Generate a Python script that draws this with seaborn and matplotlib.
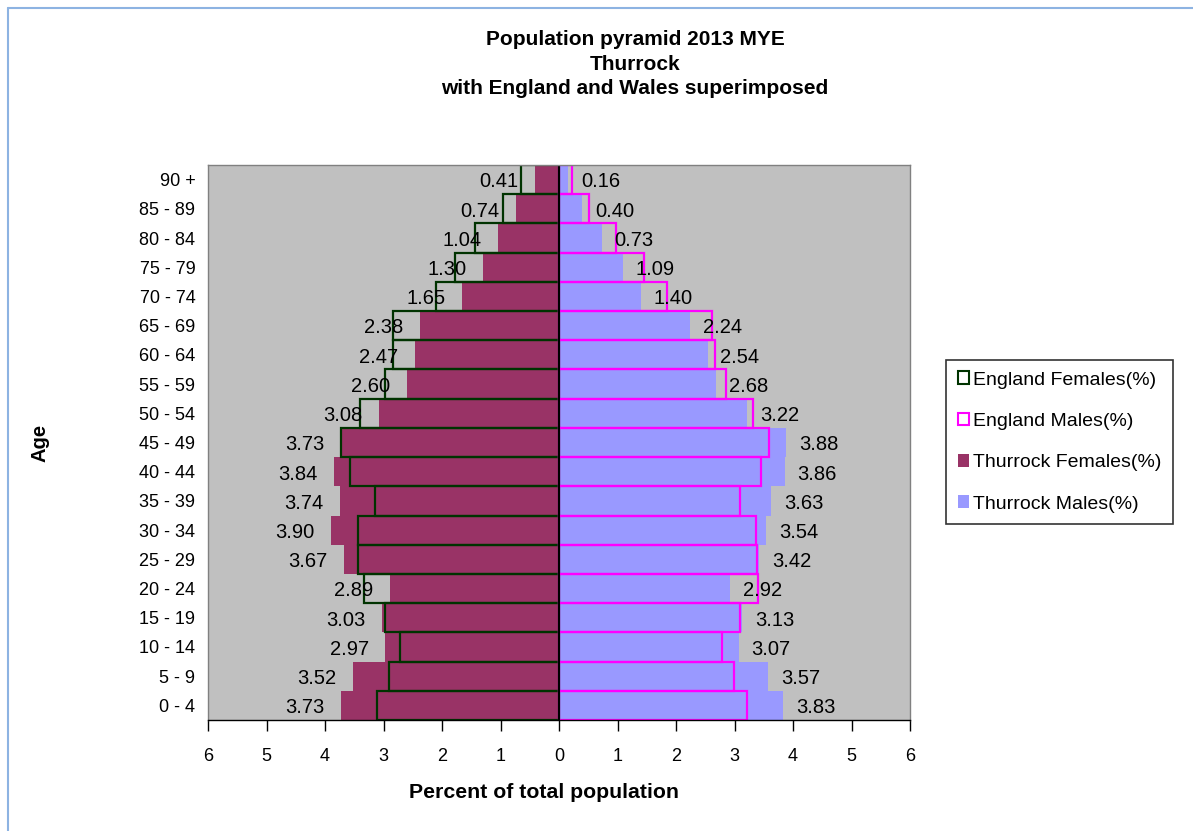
import numpy as np
import pandas as pd
import matplotlib.pyplot as plt
import seaborn as sns
from matplotlib.patches import Patch
from matplotlib.lines import Line2D
from matplotlib.ticker import FuncFormatter

sns.set_style("white")
plt.rcParams["font.family"] = ["Liberation Sans", "DejaVu Sans"]
plt.rcParams["text.color"] = "black"
plt.rcParams["xtick.color"] = "black"
plt.rcParams["ytick.color"] = "black"

ages = ["90 +", "85 - 89", "80 - 84", "75 - 79", "70 - 74", "65 - 69", "60 - 64",
        "55 - 59", "50 - 54", "45 - 49", "40 - 44", "35 - 39", "30 - 34", "25 - 29",
        "20 - 24", "15 - 19", "10 - 14", "5 - 9", "0 - 4"]
thurrock_females = [0.41, 0.74, 1.04, 1.30, 1.65, 2.38, 2.47, 2.60, 3.08, 3.73,
                    3.84, 3.74, 3.90, 3.67, 2.89, 3.03, 2.97, 3.52, 3.73]
thurrock_males = [0.16, 0.40, 0.73, 1.09, 1.40, 2.24, 2.54, 2.68, 3.22, 3.88,
                  3.86, 3.63, 3.54, 3.42, 2.92, 3.13, 3.07, 3.57, 3.83]
england_females = [0.65, 0.95, 1.44, 1.78, 2.11, 2.84, 2.83, 2.97, 3.41, 3.72,
                   3.58, 3.15, 3.44, 3.44, 3.34, 2.97, 2.71, 2.91, 3.11]
england_males = [0.22, 0.52, 0.98, 1.45, 1.85, 2.62, 2.66, 2.85, 3.32, 3.59,
                 3.46, 3.09, 3.36, 3.38, 3.40, 3.09, 2.79, 2.99, 3.22]

df = pd.DataFrame({
    "Age": ages,
    "TF": -np.array(thurrock_females),
    "TM": np.array(thurrock_males),
    "EF": -np.array(england_females),
    "EM": np.array(england_males),
})

fig = plt.figure(figsize=(11.93, 8.31), dpi=100)
ax = fig.add_axes([208 / 1193, 1 - 720 / 831, 702 / 1193, 555 / 831])
ax.set_facecolor("#C0C0C0")

sns.barplot(data=df, x="TF", y="Age", order=ages, orient="h", width=1.0,
            color="#993366", saturation=1, linewidth=0, ax=ax)
sns.barplot(data=df, x="TM", y="Age", order=ages, orient="h", width=1.0,
            color="#9999FF", saturation=1, linewidth=0, ax=ax)
sns.barplot(data=df, x="EF", y="Age", order=ages, orient="h", width=1.0,
            color="#003300", saturation=1, fill=False, linewidth=1.6, ax=ax)
sns.barplot(data=df, x="EM", y="Age", order=ages, orient="h", width=1.0,
            color="#FF00FF", saturation=1, fill=False, linewidth=1.6, ax=ax)

ax.axvline(0, color="black", linewidth=1.5)

# data labels (Thurrock values)
for i, v in enumerate(thurrock_females):
    ax.text(-v - 0.28, i + 0.08, f"{v:.2f}", ha="right", va="center", fontsize=14.5)
for i, v in enumerate(thurrock_males):
    ax.text(v + 0.22, i + 0.08, f"{v:.2f}", ha="left", va="center", fontsize=14.5)

ax.set_xlim(-6, 6)
ax.set_ylim(18.5, -0.5)
ax.set_xticks(range(-6, 7))
ax.xaxis.set_major_formatter(FuncFormatter(lambda x, p: f"{abs(int(round(x)))}"))
ax.tick_params(axis="x", direction="out", length=8, width=1, color="black",
               labelsize=13, pad=12, bottom=True)
ax.tick_params(axis="y", length=0, labelsize=13, pad=9)

for side in ["top", "right", "left"]:
    ax.spines[side].set_color("#808080")
    ax.spines[side].set_linewidth(1)
ax.spines["bottom"].set_color("black")
ax.spines["bottom"].set_linewidth(1)

ax.set_xlabel("")
ax.set_ylabel("")
fig.text(544 / 1193, 1 - 793 / 831, "Percent of total population", ha="center",
         va="center", fontsize=15.3, fontweight="bold")
fig.text(40 / 1193, 1 - 443 / 831, "Age", rotation=90, ha="center", va="center",
         fontsize=14.5, fontweight="bold")

fig.text(635 / 1193, 1 - 64 / 831,
         "Population pyramid 2013 MYE\nThurrock\nwith England and Wales superimposed",
         ha="center", va="center", fontsize=15, fontweight="bold", linespacing=1.35)

handles = [
    Patch(facecolor="none", edgecolor="#003300", linewidth=1.5, label="England Females(%)"),
    Patch(facecolor="none", edgecolor="#FF00FF", linewidth=1.5, label="England Males(%)"),
    Patch(facecolor="#993366", edgecolor="none", label="Thurrock Females(%)"),
    Patch(facecolor="#9999FF", edgecolor="none", label="Thurrock Males(%)"),
]
leg = fig.legend(handles=handles, loc="center left",
                 bbox_to_anchor=(946 / 1193, 1 - 442 / 831), frameon=True,
                 fancybox=False, edgecolor="black", fontsize=14,
                 handlelength=0.6, handleheight=0.6, handletextpad=0.2,
                 labelspacing=1.25, borderpad=0.6, borderaxespad=0)
leg.get_frame().set_linewidth(1.2)

border = "#8DB3E2"
fig.add_artist(Line2D([8 / 1193, 8 / 1193], [0, 1 - 8 / 831], color=border, lw=1.5))
fig.add_artist(Line2D([8 / 1193, 1], [1 - 8 / 831, 1 - 8 / 831], color=border, lw=1.5))

plt.savefig("out.png", dpi=100)
plt.close()
